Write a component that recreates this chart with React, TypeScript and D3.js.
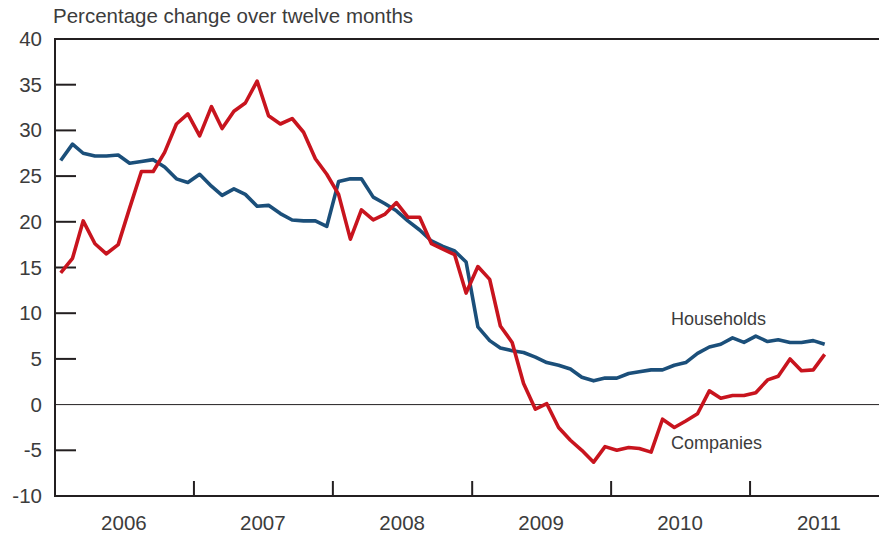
import React from 'react';
import * as d3 from 'd3';

// Monthly twelve-month percentage change, Jan 2006 – Jul 2011
const households = [
  26.7, 28.5, 27.5, 27.2, 27.2, 27.3, 26.4, 26.6, 26.8, 26.0, 24.7, 24.3,
  25.2, 23.9, 22.9, 23.6, 23.0, 21.7, 21.8, 20.9, 20.2, 20.1, 20.1, 19.5,
  24.4, 24.7, 24.7, 22.7, 22.0, 21.2, 20.1, 19.1, 17.9, 17.3, 16.8, 15.6,
  8.5, 7.0, 6.2, 5.9, 5.7, 5.2, 4.6, 4.3, 3.9, 3.0, 2.6, 2.9,
  2.9, 3.4, 3.6, 3.8, 3.8, 4.3, 4.6, 5.6, 6.3, 6.6, 7.3, 6.8,
  7.5, 6.9, 7.1, 6.8, 6.8, 7.0, 6.6,
];

const companies = [
  14.4, 16.0, 20.1, 17.6, 16.5, 17.5, 21.5, 25.5, 25.5, 27.6, 30.7, 31.8,
  29.4, 32.6, 30.2, 32.1, 33.0, 35.4, 31.6, 30.7, 31.3, 29.8, 26.9, 25.2,
  23.0, 18.1, 21.3, 20.2, 20.8, 22.1, 20.5, 20.5, 17.6, 17.0, 16.4, 12.2,
  15.1, 13.7, 8.6, 6.8, 2.3, -0.5, 0.1, -2.5, -3.9, -5.0, -6.3, -4.6,
  -5.0, -4.7, -4.8, -5.2, -1.6, -2.5, -1.8, -1.0, 1.5, 0.7, 1.0, 1.0,
  1.3, 2.7, 3.1, 5.0, 3.7, 3.8, 5.5,
];

const years = [2006, 2007, 2008, 2009, 2010, 2011];
const yTicks = [40, 35, 30, 25, 20, 15, 10, 5, 0, -5, -10];

const W = 879;
const H = 534;
const left = 55;
const top = 39;
const bottom = 496;

const font = '"Liberation Sans", Arial, sans-serif';
const textColor = '#3c3c3c';
const axisColor = '#231f20';

const App: React.FC = () => {
  const x = d3.scaleTime()
    .domain([new Date(2006, 0, 1), new Date(2012, 0, 1)])
    .range([left, left + 139 * 6]);

  const y = d3.scaleLinear().domain([-10, 40]).range([bottom, top]);

  const monthDate = (i: number) => new Date(2006, i, 16);

  const line = d3.line<number>()
    .x((_, i) => x(monthDate(i)))
    .y(d => y(d));

  return (
    <svg width={W} height={H} style={{ position: 'absolute', left: 0, top: 0 }}>
      <text x={left - 2} y={23} fontFamily={font} fontSize={20.5} fill={textColor}>
        Percentage change over twelve months
      </text>

      {/* y ticks and labels */}
      {yTicks.map(t => (
        <g key={t}>
          {t !== 40 && t !== -10 && t !== 0 && (
            <line x1={left} x2={left + 21} y1={y(t)} y2={y(t)} stroke={axisColor} strokeWidth={2} />
          )}
          <text x={42} y={y(t) + 7} textAnchor="end" fontFamily={font} fontSize={20.5} fill={textColor}>
            {t}
          </text>
        </g>
      ))}

      {/* zero line */}
      <line x1={left} x2={W} y1={y(0)} y2={y(0)} stroke={axisColor} strokeWidth={1} />

      {/* year ticks and labels */}
      {years.map(yr => (
        <g key={yr}>
          {yr !== 2006 && (
            <line x1={x(new Date(yr, 0, 1))} x2={x(new Date(yr, 0, 1))} y1={bottom} y2={bottom - 15}
              stroke={axisColor} strokeWidth={2} />
          )}
          <text x={x(new Date(yr, 6, 1))} y={530} textAnchor="middle" fontFamily={font} fontSize={20.5} fill={textColor}>
            {yr}
          </text>
        </g>
      ))}

      {/* series */}
      <path d={line(households) || ''} fill="none" stroke="#1b4f7a" strokeWidth={3.6} strokeLinejoin="round" />
      <path d={line(companies) || ''} fill="none" stroke="#c8141e" strokeWidth={3.6} strokeLinejoin="round" />

      {/* frame */}
      <line x1={left} x2={W} y1={top} y2={top} stroke={axisColor} strokeWidth={2} />
      <line x1={left} x2={W} y1={bottom} y2={bottom} stroke={axisColor} strokeWidth={2} />
      <line x1={left} x2={left} y1={top - 1} y2={bottom + 1} stroke={axisColor} strokeWidth={2} />

      <text x={671} y={325} fontFamily={font} fontSize={18} fill={textColor}>Households</text>
      <text x={671} y={449} fontFamily={font} fontSize={18} fill={textColor}>Companies</text>
    </svg>
  );
};

export default App;
